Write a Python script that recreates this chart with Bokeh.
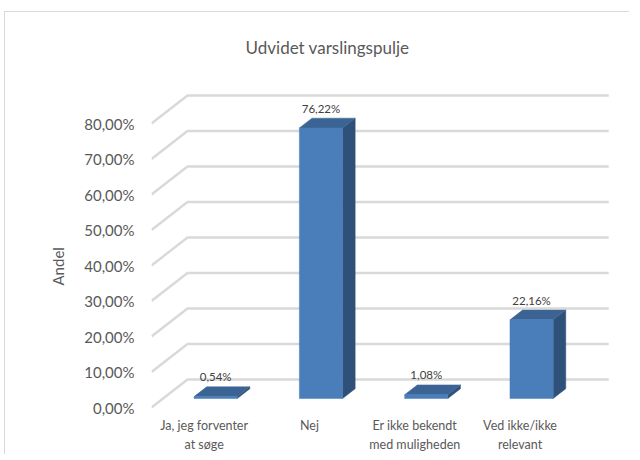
import math
from bokeh.plotting import figure
from bokeh.models import FixedTicker, Label, Range1d, ColumnDataSource, Title
from bokeh.core.properties import value
from bokeh.embed import file_html
from bokeh.resources import INLINE

# ---- data ----
chart_title = "Udvidet varslingspulje"
y_axis_title = "Andel"
categories = ["Ja, jeg forventer\nat søge", "Nej", "Er ikke bekendt\nmed muligheden", "Ved ikke/ikke\nrelevant"]
values = [0.54, 76.22, 1.08, 22.16]
value_labels = ["0,54%", "76,22%", "1,08%", "22,16%"]
y_ticks = [0, 10, 20, 30, 40, 50, 60, 70, 80]
y_tick_labels = ["0,00%", "10,00%", "20,00%", "30,00%", "40,00%", "50,00%", "60,00%", "70,00%", "80,00%"]

# ---- layout / projection constants ----
OX, OY = 5, 12              # page offset of canvas (margin + chart-area border)
SLOT = 105.3                # px per category
PPU = 3.55                  # px per percent
FRAME_L = 151 - OX
FRAME_W = 630 - OX - FRAME_L
FRAME_H = 411 - OY
BOTTOM = 44
DEPTH_X = 36 / SLOT         # depth offset of back wall in category units
DEPTH_Y = 28 / PPU          # depth offset of back wall in percent units
D0, D1 = 0.32, 0.67         # bar front / back depth fraction
HALF_W = 0.205              # half bar width (category units)
Y0 = -4 / PPU

FONT = "Lato"
TXT = "#595959"

def proj(x, v, d):
    return x + d * DEPTH_X, v + d * DEPTH_Y

x0, x1 = -0.5, -0.5 + FRAME_W / SLOT
y0, y1 = Y0, Y0 + FRAME_H / PPU
p = figure(width=FRAME_L + FRAME_W, height=FRAME_H + BOTTOM,
           x_range=Range1d(x0, x1), y_range=Range1d(y0, y1),
           output_backend="svg", toolbar_location=None,
           min_border_left=FRAME_L, min_border_right=0,
           min_border_top=0, min_border_bottom=BOTTOM)
p.styles = {"margin-left": f"{OX - 1}px", "margin-top": f"{OY - 1}px",
            "border-top": "1px solid #d9d9d9", "border-left": "1px solid #d9d9d9"}
p.outline_line_color = None
p.xgrid.visible = False
p.ygrid.visible = False
p.background_fill_color = "white"

# ---- gridlines: left side wall + back wall ----
n = len(categories)
gxs, gys = [], []
for t in y_ticks:
    fx, fy = proj(-0.5, t, 0)
    bx, by = proj(-0.5, t, 1)
    rx, ry = proj(n - 0.5, t, 1)
    gxs.append([fx, bx, rx])
    gys.append([fy, by, ry])
p.multi_line(gxs, gys, line_color="#d9d9d9", line_width=2.4)

# ---- 3D bars ----
front_x, front_y, side_x, side_y, top_x, top_y = [], [], [], [], [], []
for i, v in enumerate(values):
    l, r = i - HALF_W, i + HALF_W
    pts = [proj(l, 0, D0), proj(r, 0, D0), proj(r, v, D0), proj(l, v, D0)]
    front_x.append([q[0] for q in pts]); front_y.append([q[1] for q in pts])
    pts = [proj(r, 0, D0), proj(r, 0, D1), proj(r, v, D1), proj(r, v, D0)]
    side_x.append([q[0] for q in pts]); side_y.append([q[1] for q in pts])
    pts = [proj(l, v, D0), proj(r, v, D0), proj(r, v, D1), proj(l, v, D1)]
    top_x.append([q[0] for q in pts]); top_y.append([q[1] for q in pts])

p.patches(side_x, side_y, fill_color="#2f5079", line_color="#2f5079", line_width=0.5)
p.patches(top_x, top_y, fill_color="#3b6495", line_color="#3b6495", line_width=0.5)
p.patches(front_x, front_y, fill_color="#4a7ebb", line_color="#4a7ebb", line_width=0.5)

# ---- value labels ----
lab_pts = [proj(i, v, D0) for i, v in enumerate(values)]
lsrc = ColumnDataSource(dict(
    x=[q[0] for q in lab_pts],
    y=[v + D1 * DEPTH_Y for v in values],
    t=value_labels))
p.text("x", "y", "t", source=lsrc, text_font=value(FONT), text_font_size="11.5px",
       text_color="#404040", text_align="center", text_baseline="middle", y_offset=-10)

# ---- axes ----
ya = p.yaxis[0]
ya.ticker = FixedTicker(ticks=y_ticks)
ya.major_label_overrides = {t: s for t, s in zip(y_ticks, y_tick_labels)}
ya.axis_line_color = None
ya.major_tick_line_color = None
ya.minor_tick_line_color = None
ya.major_tick_out = 0
ya.major_tick_in = 0
ya.major_label_standoff = 17
ya.major_label_text_font = FONT
ya.major_label_text_font_size = "15px"
ya.major_label_text_color = TXT

xa = p.xaxis[0]
xa.ticker = FixedTicker(ticks=list(range(n)))
xa.major_label_overrides = {i: c for i, c in enumerate(categories)}
xa.axis_line_color = None
xa.major_tick_line_color = None
xa.minor_tick_line_color = None
xa.major_tick_out = 0
xa.major_tick_in = 0
xa.major_label_standoff = 6
xa.major_label_text_font = FONT
xa.major_label_text_font_size = "12.5px"
xa.major_label_text_line_height = 1.3
xa.major_label_text_color = TXT

# ---- titles ----
p.add_layout(Label(x=327 - OX - FRAME_L, y=(FRAME_H + OY) - 47, x_units="screen", y_units="screen",
                   text=chart_title, text_font=FONT, text_font_size="17px", text_color=TXT,
                   text_align="center", text_baseline="middle"))
p.add_layout(Title(text=y_axis_title, align="left", offset=411 - 285, standoff=27,
                   vertical_align="middle", text_font=FONT, text_font_size="15px",
                   text_color=TXT, text_font_style="normal"), "left")

open("out.html", "w").write(file_html(p, INLINE))
